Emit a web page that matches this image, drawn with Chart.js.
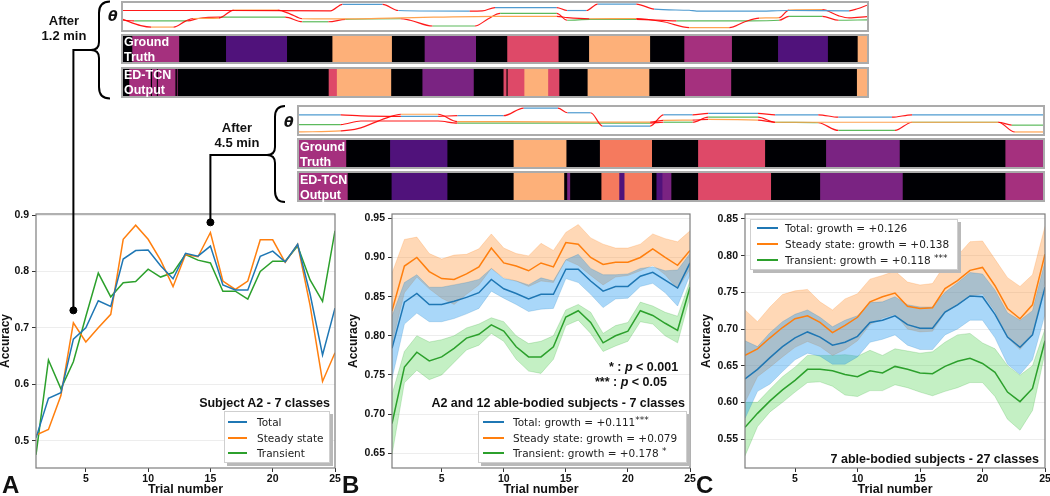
<!DOCTYPE html>
<html><head><meta charset="utf-8">
<script src="https://cdn.jsdelivr.net/npm/chart.js@4.4.1/dist/chart.umd.min.js"></script>
<style>
html,body{margin:0;padding:0;background:#fff;}
#wrap{position:relative;width:1050px;height:496px;overflow:hidden;font-family:'Liberation Sans',Arial,sans-serif;color:#111;}
canvas{display:block;}
.cv{position:absolute;}
.frame{position:absolute;box-sizing:border-box;border:2px solid #ababab;background:#fff;overflow:hidden;}
.rowlbl{position:absolute;color:#fff;font-weight:bold;font-size:12.5px;line-height:15px;white-space:nowrap;}
.txt{position:absolute;font-weight:bold;white-space:nowrap;}
.legend{position:absolute;box-sizing:border-box;background:#fff;border:1px solid #cfcfcf;box-shadow:3px 3px 0 #b9b9b9;font-family:'DejaVu Sans',sans-serif;font-size:10.5px;color:#222;}
.lrow{position:absolute;left:0;right:0;height:16px;line-height:16px;white-space:nowrap;}
.sw{position:absolute;top:7px;height:2px;}
.lt{position:absolute;top:0;}
sup{font-size:9px;vertical-align:3px;line-height:0;}
</style></head>
<body>
<div id="wrap">
  <!-- diagram 1 -->
  <div class="frame" style="left:121px;top:1px;width:748px;height:31px"><canvas id="th1" width="744" height="27"></canvas></div>
  <div class="frame" style="left:121px;top:34px;width:748px;height:30px"><canvas id="gt1" width="744" height="26"></canvas></div>
  <div class="frame" style="left:121px;top:67px;width:748px;height:31px"><canvas id="ed1" width="744" height="27"></canvas></div>
  <div class="rowlbl" style="left:124px;top:35px">Ground<br>Truth</div>
  <div class="rowlbl" style="left:124px;top:68px">ED-TCN<br>Output</div>
  <!-- diagram 2 -->
  <div class="frame" style="left:297px;top:105px;width:748px;height:31px"><canvas id="th2" width="744" height="27"></canvas></div>
  <div class="frame" style="left:297px;top:138px;width:748px;height:31px"><canvas id="gt2" width="744" height="27"></canvas></div>
  <div class="frame" style="left:297px;top:171px;width:748px;height:31px"><canvas id="ed2" width="744" height="27"></canvas></div>
  <div class="rowlbl" style="left:300px;top:140px">Ground<br>Truth</div>
  <div class="rowlbl" style="left:300px;top:173px">ED-TCN<br>Output</div>

  <div class="txt" style="left:108px;top:8px;font-family:'DejaVu Sans';font-style:italic;font-size:14px">θ</div>
  <div class="txt" style="left:284px;top:114px;font-family:'DejaVu Sans';font-style:italic;font-size:14px">θ</div>
  <div class="txt" style="left:24px;top:13px;width:80px;text-align:center;font-size:13px;line-height:15px">After<br>1.2 min</div>
  <div class="txt" style="left:197px;top:120px;width:80px;text-align:center;font-size:13px;line-height:15px">After<br>4.5 min</div>

  <canvas id="cA" class="cv" width="345" height="291" style="left:0;top:205px"></canvas>
  <canvas id="cB" class="cv" width="352" height="291" style="left:348px;top:205px"></canvas>
  <canvas id="cC" class="cv" width="349" height="291" style="left:701px;top:205px"></canvas>

  <!-- titles -->
  <div class="txt" style="right:720px;top:395px;font-size:12.5px;line-height:16px">Subject A2 - 7 classes</div>
  <div class="txt" style="right:365px;top:395px;font-size:12.5px;line-height:16px">A2 and 12 able-bodied subjects - 7 classes</div>
  <div class="txt" style="right:11px;top:451px;font-size:12.5px;line-height:16px">7 able-bodied subjects - 27 classes</div>
  <div class="txt" style="left:609px;top:359px;font-size:12.5px;line-height:16px">* : <i>p</i> &lt; 0.001</div>
  <div class="txt" style="left:595px;top:374px;font-size:12.5px;line-height:16px">*** : <i>p</i> &lt; 0.05</div>

  <!-- legends -->
  <div class="legend" style="left:224px;top:411px;width:106px;height:52px">
    <div class="lrow" style="top:2px"><span class="sw" style="left:3px;width:19px;background:#1f77b4"></span><span class="lt" style="left:32px">Total</span></div>
    <div class="lrow" style="top:18px"><span class="sw" style="left:3px;width:19px;background:#ff7f0e"></span><span class="lt" style="left:32px">Steady state</span></div>
    <div class="lrow" style="top:33px"><span class="sw" style="left:3px;width:19px;background:#2ca02c"></span><span class="lt" style="left:32px">Transient</span></div>
  </div>
  <div class="legend" style="left:478px;top:411px;width:209px;height:52px">
    <div class="lrow" style="top:2px"><span class="sw" style="left:4px;width:21px;background:#1f77b4"></span><span class="lt" style="left:34px">Total: growth = +0.111<sup>***</sup></span></div>
    <div class="lrow" style="top:18px"><span class="sw" style="left:4px;width:21px;background:#ff7f0e"></span><span class="lt" style="left:34px">Steady state: growth = +0.079</span></div>
    <div class="lrow" style="top:33px"><span class="sw" style="left:4px;width:21px;background:#2ca02c"></span><span class="lt" style="left:34px">Transient: growth = +0.178 <sup>*</sup></span></div>
  </div>
  <div class="legend" style="left:750px;top:219px;width:208px;height:51px">
    <div class="lrow" style="top:0px"><span class="sw" style="left:6px;width:21px;background:#1f77b4"></span><span class="lt" style="left:34px">Total: growth = +0.126</span></div>
    <div class="lrow" style="top:16px"><span class="sw" style="left:6px;width:21px;background:#ff7f0e"></span><span class="lt" style="left:34px">Steady state: growth = +0.138</span></div>
    <div class="lrow" style="top:32px"><span class="sw" style="left:6px;width:21px;background:#2ca02c"></span><span class="lt" style="left:34px">Transient: growth = +0.118 <sup>***</sup></span></div>
  </div>

  <div class="txt" style="left:2px;top:473px;font-size:24px;line-height:24px">A</div>
  <div class="txt" style="left:342px;top:473px;font-size:24px;line-height:24px">B</div>
  <div class="txt" style="left:696px;top:473px;font-size:24px;line-height:24px">C</div>

  <svg width="1050" height="496" style="position:absolute;left:0;top:0;pointer-events:none">
    <g fill="none" stroke="#000" stroke-width="2">
      <path d="M110,1.5 Q99,1.5 99,13 L99,42 Q99,50 91,50 Q99,50 99,58 L99,87 Q99,98.5 110,98.5"/>
      <path d="M91,50 H73.4 V310"/>
      <path d="M285,106 Q275,106 275,117 L275,147 Q275,155 267,155 Q275,155 275,163 L275,191 Q275,202 285,202"/>
      <path d="M267,155 H210.4 V222"/>
    </g>
  </svg>
</div>
<script>
// ---------------- data ----------------
const trials = [1,2,3,4,5,6,7,8,9,10,11,12,13,14,15,16,17,18,19,20,21,22,23,24,25];
const xTicks = [5,10,15,20,25];

// Panel A
const aTotal  = [0.505,0.575,0.585,0.680,0.700,0.748,0.738,0.822,0.837,0.838,0.810,0.787,0.832,0.827,0.845,0.776,0.767,0.767,0.827,0.836,0.817,0.848,0.760,0.652,0.735];
const aSteady = [0.510,0.520,0.580,0.709,0.675,0.700,0.724,0.857,0.882,0.857,0.820,0.773,0.830,0.826,0.869,0.783,0.768,0.783,0.856,0.856,0.816,0.848,0.740,0.605,0.656];
const aTrans  = [0.475,0.643,0.592,0.640,0.720,0.797,0.755,0.780,0.782,0.804,0.790,0.798,0.830,0.820,0.815,0.765,0.765,0.751,0.800,0.818,0.818,0.845,0.785,0.747,0.872];
const aTicks  = [0.5,0.6,0.7,0.8,0.9];
const markerTrials = [4,15];
const markerValues = [0.731,0.887];

// Panel B
const bTotal    = [0.784,0.843,0.854,0.840,0.840,0.844,0.849,0.855,0.872,0.860,0.854,0.847,0.853,0.853,0.885,0.885,0.870,0.857,0.863,0.863,0.876,0.881,0.871,0.861,0.893];
const bTotalHi  = [0.825,0.868,0.878,0.862,0.862,0.865,0.868,0.872,0.886,0.873,0.870,0.865,0.874,0.870,0.897,0.904,0.886,0.878,0.878,0.879,0.886,0.888,0.883,0.884,0.905];
const bTotalLo  = [0.745,0.815,0.829,0.818,0.818,0.822,0.828,0.835,0.857,0.848,0.840,0.831,0.834,0.835,0.873,0.868,0.853,0.836,0.847,0.848,0.863,0.867,0.855,0.838,0.878];
const bSteady   = [0.832,0.889,0.900,0.882,0.873,0.872,0.879,0.888,0.912,0.893,0.889,0.883,0.893,0.888,0.919,0.917,0.900,0.891,0.894,0.894,0.900,0.911,0.900,0.890,0.909];
const bSteadyHi = [0.880,0.923,0.926,0.905,0.898,0.903,0.904,0.911,0.930,0.912,0.905,0.902,0.918,0.909,0.932,0.942,0.925,0.917,0.912,0.912,0.917,0.930,0.924,0.920,0.934];
const bSteadyLo = [0.790,0.855,0.875,0.860,0.848,0.840,0.853,0.865,0.886,0.874,0.870,0.863,0.870,0.868,0.897,0.890,0.877,0.865,0.875,0.877,0.883,0.890,0.878,0.860,0.885];
const bTrans    = [0.688,0.760,0.779,0.768,0.773,0.784,0.797,0.802,0.814,0.806,0.786,0.773,0.773,0.786,0.824,0.832,0.817,0.791,0.800,0.806,0.832,0.826,0.816,0.807,0.862];
const bTransHi  = [0.725,0.780,0.800,0.792,0.795,0.800,0.810,0.815,0.823,0.818,0.800,0.790,0.793,0.800,0.833,0.840,0.830,0.803,0.813,0.817,0.843,0.838,0.830,0.825,0.870];
const bTransLo  = [0.648,0.740,0.756,0.744,0.750,0.766,0.782,0.788,0.803,0.793,0.770,0.755,0.752,0.770,0.813,0.820,0.803,0.780,0.787,0.793,0.818,0.815,0.800,0.791,0.850];
const bTicks    = [0.65,0.70,0.75,0.80,0.85,0.90,0.95];

// Panel C
const cTotal    = [0.632,0.645,0.661,0.676,0.688,0.696,0.689,0.678,0.682,0.690,0.709,0.712,0.718,0.706,0.701,0.701,0.723,0.733,0.745,0.744,0.720,0.689,0.675,0.692,0.757];
const cTotalHi  = [0.684,0.676,0.695,0.710,0.720,0.726,0.716,0.703,0.712,0.718,0.736,0.737,0.744,0.733,0.730,0.730,0.750,0.763,0.777,0.775,0.753,0.722,0.712,0.725,0.792];
const cTotalLo  = [0.578,0.615,0.625,0.642,0.658,0.667,0.663,0.652,0.652,0.662,0.682,0.686,0.692,0.678,0.672,0.672,0.692,0.700,0.712,0.712,0.688,0.652,0.638,0.658,0.720];
const cSteady   = [0.664,0.673,0.688,0.702,0.714,0.718,0.709,0.695,0.705,0.716,0.737,0.744,0.749,0.731,0.728,0.729,0.755,0.766,0.780,0.784,0.759,0.728,0.714,0.733,0.802];
const cSteadyHi = [0.726,0.710,0.730,0.747,0.752,0.754,0.737,0.726,0.741,0.748,0.768,0.773,0.779,0.764,0.760,0.762,0.788,0.800,0.819,0.820,0.795,0.770,0.758,0.774,0.840];
const cSteadyLo = [0.600,0.635,0.648,0.662,0.675,0.683,0.676,0.664,0.672,0.684,0.706,0.715,0.720,0.700,0.696,0.697,0.722,0.733,0.745,0.748,0.724,0.688,0.672,0.692,0.765];
const cTrans    = [0.566,0.585,0.602,0.617,0.630,0.645,0.645,0.643,0.638,0.635,0.643,0.640,0.649,0.645,0.640,0.639,0.649,0.656,0.660,0.653,0.641,0.614,0.601,0.619,0.684];
const cTransHi  = [0.600,0.600,0.618,0.635,0.648,0.664,0.664,0.664,0.665,0.663,0.671,0.664,0.673,0.670,0.667,0.669,0.682,0.692,0.694,0.681,0.673,0.650,0.637,0.650,0.700];
const cTransLo  = [0.527,0.567,0.587,0.600,0.614,0.627,0.628,0.622,0.610,0.608,0.616,0.616,0.624,0.620,0.614,0.609,0.615,0.620,0.627,0.627,0.608,0.577,0.562,0.589,0.668];
const cTicks    = [0.55,0.60,0.65,0.70,0.75,0.80,0.85];

// Segmentation rows (time in % of window) and class codes
const gt1Edges = [0,1.3,7.6,13.9,22.1,28.2,36.2,40.6,47.5,51.7,58.6,62.7,70.9,75.5,81.9,88.1,94.8,98.8,100];
const gt1Class = ['K','M','K','I','K','E','K','P','K','R','K','E','K','M','K','I','K','E'];
const ed1Edges = [0,0.9,3.8,3.95,4.6,4.75,7.1,7.3,7.4,27.7,28.8,36.1,40.3,47.2,51.2,51.6,51.75,54.0,57.2,58.7,62.5,70.8,75.6,81.8,98.7,100];
const ed1Class = ['K','M','K','M','K','M','K','M','K','R','E','K','P','K','R','K','R','E','R','K','E','K','M','K','E'];
const gt2Edges = [0,6.4,12.3,20,28.9,36,40.5,47.5,53.7,62.7,70.9,80.8,95,100];
const gt2Class = ['M','K','I','K','E','K','S','K','R','K','P','K','M'];
const ed2Edges = [0,6.6,12.5,20,28.9,35.7,36.1,36.5,40.7,43.1,43.8,47.5,48.1,48.9,50.1,53.7,63.5,70.1,81.2,95,100];
const ed2Class = ['M','K','I','K','E','K','P','K','S','I','S','K','I','P','K','R','K','P','K','M'];

// Joint-angle traces (time %, angle)
const d1BlueT = [0,14.5,27.9,29.5,34.9,37.0,46.6,48.3,50.0,58.3,59.7,62.3,63.8,69.0,71.4,76.1,77.1,84.9,89.5,97.6,98.7,100];
const d1BlueV = [21.5,21.5,21.2,28.5,28.5,21.5,20.8,21,24.8,24.8,21.5,21.5,28.8,28.8,23,21.8,20.8,20.8,21.5,21.2,23.5,27.5];
const d1OrangeT = [0,2.4,3.8,6.8,8.4,9.4,12.9,14.9,20.8,22.5,24.1,27.9,37.3,50.0,58.3,59.7,62.7,69.0,72.8,76.1,81.5,83.5,85.5,88.2,89.5,94.0,96.2,97.6,100];
const d1OrangeV = [11.5,4.5,2.8,2.8,9.5,12.5,13,22,22,17.5,12.2,12,13.2,15,15,13.5,12.2,12.5,8.5,2.2,2.2,8.5,13,13.5,22,22.5,15.5,13.2,14.5];
const d1GreenT = [0,1.5,8.7,10.1,13.1,21.8,24.1,27.6,29.9,37.3,38.6,41.6,47.3,49.1,50.7,58.3,59.7,62.7,69.0,74.4,84.2,88.2,89.5,94.0,96.2,100];
const d1GreenV = [10.5,9.8,9.8,12.5,14,14,8.8,8.8,11.5,12.2,10.5,4,4,12.2,18.2,18.2,10.5,11.5,11.5,9.8,9.8,10.5,14.8,14.8,10.5,11];
const d1Red = [[0,1.7],[6.8,10.2],[11.4,15.3],[20.6,24.1],[27.6,29.9],[34.6,37.9],[46.4,50.4],[56.7,59.8],[62.1,64.1],[69.4,72.8],[81.1,85.1],[88.2,89.8],[93.6,97.3],[98.4,100]];

const d2BlueT = [0,5.6,8.3,13.7,18.7,21.3,27.5,30.2,34.8,36.1,39.2,40.8,47.2,49.0,52.9,55.0,61.7,64.0,69.8,72.5,79.7,82.4,100];
const d2BlueV = [21.2,21.2,20,19.5,19.5,20.2,20.2,28.8,28.8,23.5,23.5,8.5,8.5,21.2,21.2,22.8,22.8,21.2,21.2,18.5,18.5,21.2,21.2];
const d2OrangeT = [0,5.6,7.9,11.7,13.7,18.7,21.3,27.5,39.2,47.2,49.0,52.9,55.0,61.7,64.0,94.0,96.2,100];
const d2OrangeV = [1.8,3,5.5,17.5,21.8,21.8,13.5,13.5,13,13,15,15.2,16,15.2,12.8,12.8,1.8,1.8];
const d2GreenT = [0,5.6,8.3,18.7,21.3,47.2,49.0,52.9,55.0,61.7,64.0,69.8,72.5,80.1,82.4,94.0,95.8,100];
const d2GreenV = [10.2,10.2,14.2,14.2,11.8,11.8,12.8,12.8,18.5,18.5,12.8,12.2,3.5,3.5,12.8,12.8,9.5,9.5];
const d2Red = [[0,0.5],[5.2,13.7],[18.7,21.5],[27.5,30.2],[34.8,36.3],[39.2,41],[46.5,49.2],[52.9,55],[61.7,64],[69.8,72.5],[79.7,82.4],[94,96.4]];

// ---------------- styles ----------------
Chart.defaults.font.family = "'Liberation Sans', Arial, sans-serif";
const C_BLUE='#1f77b4', C_ORANGE='#ff7f0e', C_GREEN='#2ca02c';
const F_BLUE='rgba(30,150,240,0.38)', F_ORANGE='rgba(255,127,14,0.30)', F_GREEN='rgba(44,200,44,0.28)';
const classColor = {K:'#000004', M:'#a5307e', I:'#50127b', P:'#7a2382', E:'#fdb079', R:'#de4968', S:'#f57a5e'};
const RED = 'rgba(255,0,0,0.9)';

const framePlugin = {
  id:'frame',
  afterDatasetsDraw(chart){
    const {ctx, chartArea:a} = chart;
    ctx.save(); ctx.strokeStyle='#7d7d7d'; ctx.lineWidth=1.2;
    ctx.strokeRect(a.left, a.top, a.right-a.left, a.bottom-a.top);
    ctx.restore();
  }
};

const pts = arr => trials.map((t,i)=>({x:t, y:arr[i]}));
const line = (arr,color) => ({data:pts(arr), borderColor:color, backgroundColor:color, borderWidth:1.5, pointRadius:0, fill:false});
const bandHi = (arr,fillC,edgeC) => ({data:pts(arr), borderColor:edgeC, borderWidth:0.6, pointRadius:0, fill:'+1', backgroundColor:fillC});
const bandLo = (arr,edgeC) => ({data:pts(arr), borderColor:edgeC, borderWidth:0.6, pointRadius:0, fill:false});

function mainChart(id, yMin, yMax, yTicks, dec, yw, pad, datasets){
  return new Chart(document.getElementById(id), {
    type:'line',
    data:{datasets},
    plugins:[framePlugin],
    options:{
      responsive:false, animation:false, devicePixelRatio:1,
      layout:{autoPadding:false, padding:pad},
      plugins:{legend:{display:false}, tooltip:{enabled:false}},
      scales:{
        x:{type:'linear', min:1, max:25,
          afterBuildTicks:s=>{s.ticks = xTicks.map(v=>({value:v}));},
          afterFit:s=>{s.height=28; s.paddingLeft=0; s.paddingRight=0;},
          grid:{drawOnChartArea:false, tickLength:4, tickColor:'#333', lineWidth:1},
          border:{display:false},
          ticks:{padding:1, color:'#111', font:{size:10.5, weight:'bold'}, maxRotation:0, autoSkip:false},
          title:{display:true, text:'Trial number', color:'#111', font:{size:12.5, weight:'bold', lineHeight:1.1}, padding:0}},
        y:{type:'linear', min:yMin, max:yMax,
          afterBuildTicks:s=>{s.ticks = yTicks.map(v=>({value:v}));},
          afterFit:s=>{s.width=yw; s.paddingTop=0; s.paddingBottom=0;},
          grid:{color:'rgba(0,0,0,0.07)', tickLength:4, tickColor:'#333', lineWidth:1},
          border:{display:false},
          ticks:{padding:3, color:'#111', font:{size:10.5, weight:'bold'}, callback:v=>Number(v).toFixed(dec)},
          title:{display:true, text:'Accuracy', color:'#111', font:{size:12, weight:'bold', lineHeight:1.0}, padding:0}}
      }
    }
  });
}

// Panel A
mainChart('cA', 0.4516, 0.9018, aTicks, 1, 36, {left:0, top:9, right:10, bottom:0}, [
  {type:'scatter', data:markerTrials.map((t,i)=>({x:t, y:markerValues[i]})), pointRadius:3.5, pointBackgroundColor:'#000', pointBorderColor:'#000', showLine:false},
  line(aTotal, C_BLUE), line(aSteady, C_ORANGE), line(aTrans, C_GREEN)
]);
// Panel B
mainChart('cB', 0.6312, 0.9555, bTicks, 2, 44, {left:0, top:9, right:10, bottom:0}, [
  line(bTotal, C_BLUE), line(bSteady, C_ORANGE), line(bTrans, C_GREEN),
  bandHi(bTotalHi, F_BLUE, 'rgba(31,119,180,0.35)'), bandLo(bTotalLo, 'rgba(31,119,180,0.35)'),
  bandHi(bSteadyHi, F_ORANGE, 'rgba(255,127,14,0.35)'), bandLo(bSteadyLo, 'rgba(255,127,14,0.35)'),
  bandHi(bTransHi, F_GREEN, 'rgba(44,160,44,0.35)'), bandLo(bTransLo, 'rgba(44,160,44,0.35)')
]);
// Panel C
mainChart('cC', 0.5105, 0.8568, cTicks, 2, 44, {left:0, top:9, right:5, bottom:0}, [
  line(cTotal, C_BLUE), line(cSteady, C_ORANGE), line(cTrans, C_GREEN),
  bandHi(cTotalHi, F_BLUE, 'rgba(31,119,180,0.35)'), bandLo(cTotalLo, 'rgba(31,119,180,0.35)'),
  bandHi(cSteadyHi, F_ORANGE, 'rgba(255,127,14,0.35)'), bandLo(cSteadyLo, 'rgba(255,127,14,0.35)'),
  bandHi(cTransHi, F_GREEN, 'rgba(44,160,44,0.35)'), bandLo(cTransLo, 'rgba(44,160,44,0.35)')
]);

// Segmentation rows
function segChart(id, edges, classes){
  const data = classes.map((c,i)=>({x:[edges[i], edges[i+1]], y:'row'}));
  return new Chart(document.getElementById(id), {
    type:'bar',
    data:{labels:['row'], datasets:[{data, backgroundColor:classes.map(c=>classColor[c]), borderWidth:0, borderSkipped:false, barPercentage:1, categoryPercentage:1, inflateAmount:0.4}]},
    options:{indexAxis:'y', responsive:false, animation:false, devicePixelRatio:1,
      layout:{autoPadding:false, padding:0},
      plugins:{legend:{display:false}, tooltip:{enabled:false}},
      scales:{x:{type:'linear', min:0, max:100, display:false}, y:{type:'category', display:false}}}
  });
}
segChart('gt1', gt1Edges, gt1Class);
segChart('ed1', ed1Edges, ed1Class);
segChart('gt2', gt2Edges, gt2Class);
segChart('ed2', ed2Edges, ed2Class);

// Joint-angle strips
function segColor(base, red){
  return ctx => {
    const x0=ctx.p0.parsed.x, x1=ctx.p1.parsed.x, y0=ctx.p0.parsed.y, y1=ctx.p1.parsed.y;
    if (Math.abs(y1-y0) > 1.2 && (x1-x0) < 6) return RED;
    const mid=(x0+x1)/2;
    for (const [a,b] of red) if (mid>=a && mid<=b) return RED;
    return base;
  };
}
function thetaChart(id, series, red){
  return new Chart(document.getElementById(id), {
    type:'line',
    data:{datasets:series.map(s=>({
      data:s.t.map((t,i)=>({x:t, y:s.v[i]})), borderColor:s.c, borderWidth:1.2, pointRadius:0,
      cubicInterpolationMode:'monotone', fill:false, segment:{borderColor:segColor(s.c, red)}
    }))},
    options:{responsive:false, animation:false, devicePixelRatio:1,
      layout:{autoPadding:false, padding:0},
      plugins:{legend:{display:false}, tooltip:{enabled:false}},
      scales:{x:{type:'linear', min:0, max:100, display:false}, y:{type:'linear', min:-0.5, max:30, display:false}}}
  });
}
thetaChart('th1', [
  {t:d1BlueT, v:d1BlueV, c:'#4f9bd0'},
  {t:d1OrangeT, v:d1OrangeV, c:'#ffa24f'},
  {t:d1GreenT, v:d1GreenV, c:'#5cba5c'}
], d1Red);
thetaChart('th2', [
  {t:d2BlueT, v:d2BlueV, c:'#4f9bd0'},
  {t:d2OrangeT, v:d2OrangeV, c:'#ffa24f'},
  {t:d2GreenT, v:d2GreenV, c:'#5cba5c'}
], d2Red);
</script>
</body></html>
